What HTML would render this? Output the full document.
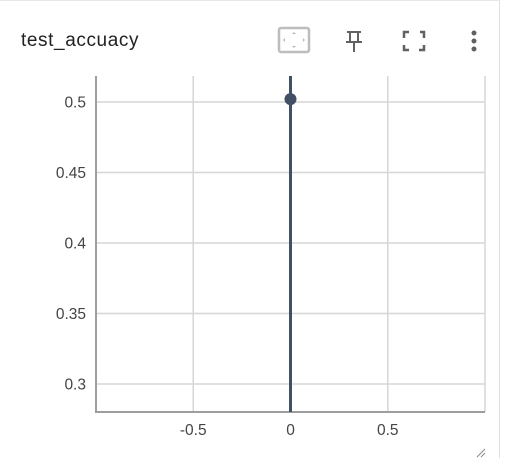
<!DOCTYPE html>
<html><head><meta charset="utf-8"><style>
body{margin:0;background:#fff;font-family:"Liberation Sans",sans-serif;}
#card{position:absolute;left:0;top:0;width:500px;height:458px;border-top:1px solid #e8e8e8;border-right:1px solid #e0e0e0;box-sizing:border-box;}
#title{position:absolute;left:21px;top:29px;font-size:19px;letter-spacing:0.6px;color:#212121;}
</style></head><body>
<div id="card">
<div id="title">test_accuacy</div>
<svg width="512" height="458" style="position:absolute;left:0;top:0">
<g><rect x="279" y="27" width="30" height="24" rx="2" fill="none" stroke="#bdbdbd" stroke-width="2.5"/>
<path d="M294 31l-2 2h4zM294 47l-2-2h4zM283 39l2-2v4zM305 39l-2-2v4z" fill="#bbb"/></g>
<g stroke="#616161" stroke-width="2" fill="none"><path d="M347 31h14M350 31v9M358 31v9M346 41h16M354 41v10"/></g>
<g stroke="#616161" stroke-width="2.5" fill="none"><path d="M404 37v-6h5M420 31h4v6M424 44v5h-5M409 49h-5v-5"/></g>
<g fill="#616161"><circle cx="474" cy="32" r="2.5"/><circle cx="474" cy="40" r="2.5"/><circle cx="474" cy="48" r="2.5"/></g>
<g id="grid"></g><g id="marks"></g>
<path d="M477 456l8-8M481 456l4-4" stroke="#888" stroke-width="1"/>
</svg>
</div>
<script>
const xTicks=[-0.5,0,0.5];
const yTicks=[0.3,0.35,0.4,0.45,0.5];
const yTickLabels=["0.3","0.35","0.4","0.45","0.5"];
const xValues=[0];
const yValues=[0.502];
const L=96,R=485,T=75,B=411;
const xs=v=>L+(v+1)/2*(R-L);
const ys=v=>383+(0.3-v)/0.05*70.5;
const NS="http://www.w3.org/2000/svg";
const g=document.getElementById('grid'),m=document.getElementById('marks');
function mk(p,t,a){const e=document.createElementNS(NS,t);for(const k in a)e.setAttribute(k,a[k]);p.appendChild(e);return e;}
yTicks.forEach((v,i)=>{const y=ys(v);
 const l=mk(g,'line',{x1:L,x2:R,y1:y,y2:y,stroke:'#d6d6d6','stroke-width':1.5});
 
 
 const t=mk(g,'text',{x:86,y:y+5.5,'text-anchor':'end','font-size':15.5,fill:'#444'});t.textContent=yTickLabels[i];
 
 });
xTicks.forEach(v=>{const x=xs(v);
 const l=mk(g,'line',{x1:x,x2:x,y1:T,y2:B,stroke:'#d6d6d6','stroke-width':1.5});
 
 
 const t=mk(g,'text',{x:x,y:434,'text-anchor':'middle','font-size':15.5,fill:'#444'});t.textContent=String(v);
 
 });
mk(g,'line',{x1:R,x2:R,y1:T,y2:B,stroke:'#d6d6d6','stroke-width':1.5});
const ax=mk(g,'path',{d:`M${L} ${T}V${B}H${R}`,fill:'none',stroke:'#9e9e9e','stroke-width':2});


xValues.forEach((xv,i)=>{const x=xs(xv);
 const ln=mk(m,'line',{x1:x,x2:x,y1:T,y2:B,stroke:'#425066','stroke-width':3});
 
 
 const c=mk(m,'circle',{cx:x,cy:ys(yValues[i]),r:6,fill:'#425066'});
 
 });
</script>
</body></html>
